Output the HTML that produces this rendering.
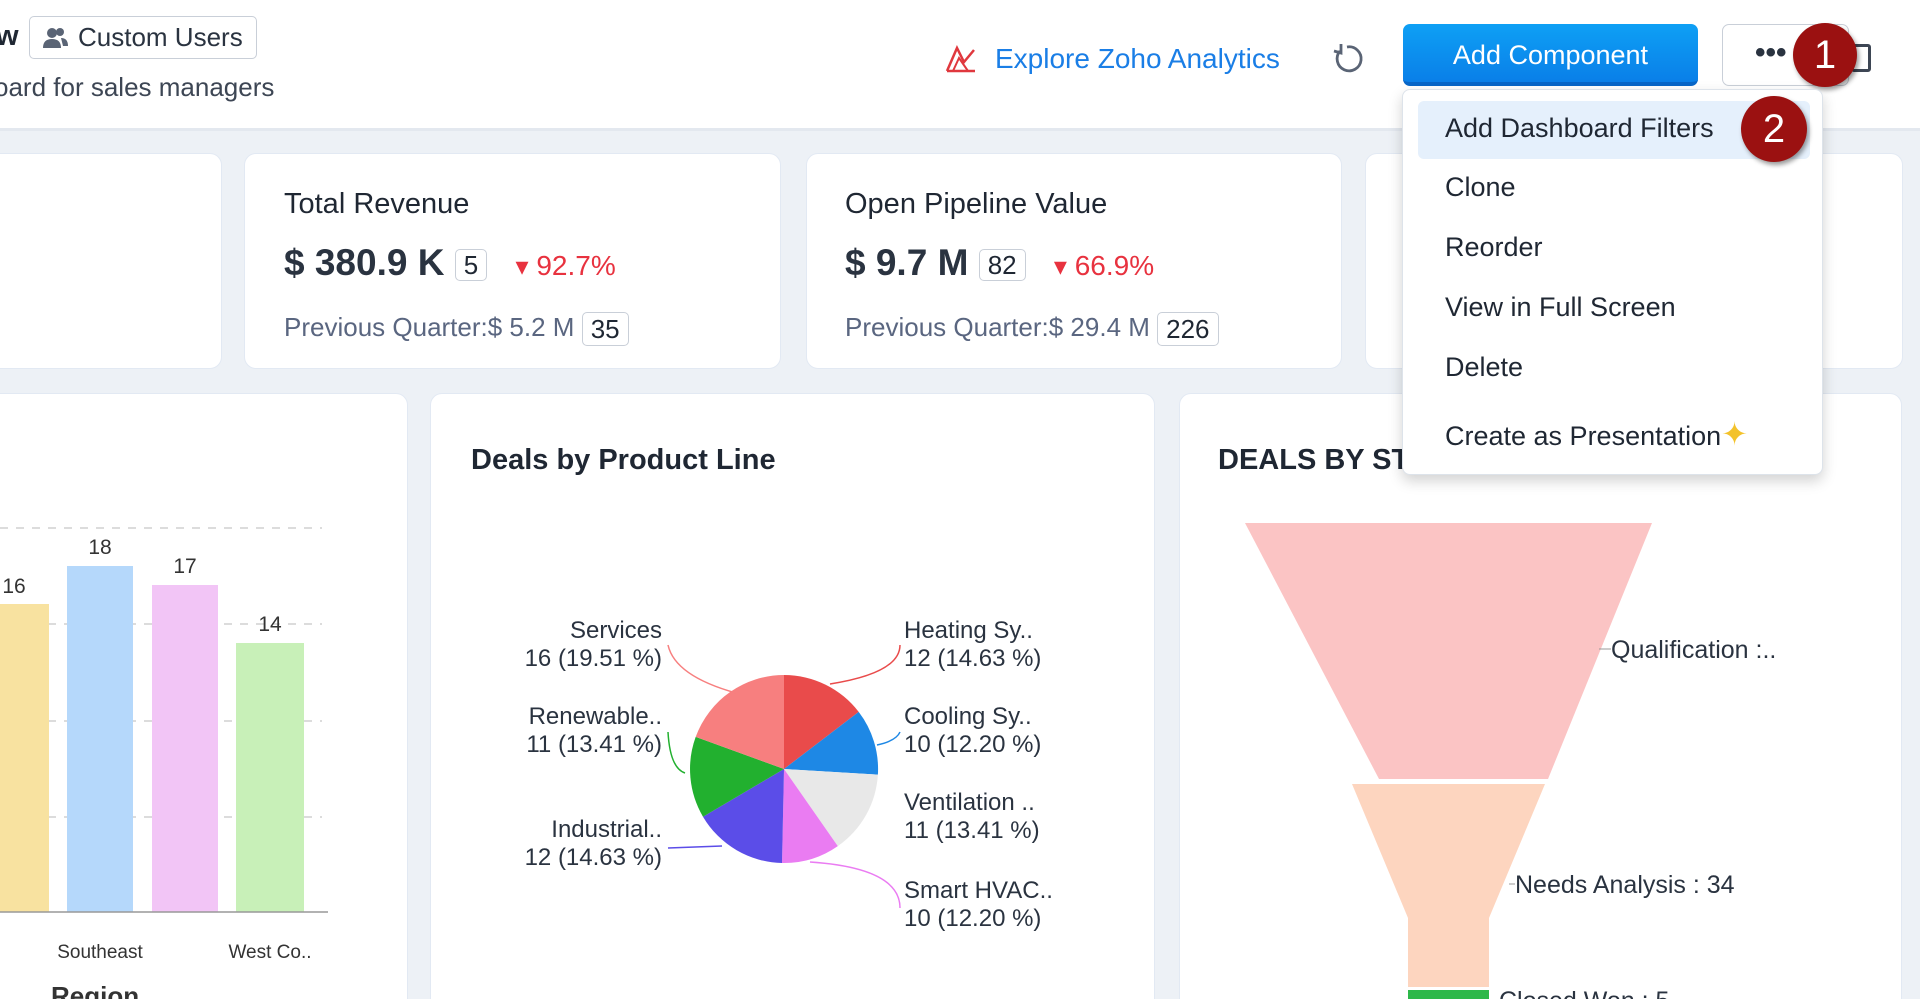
<!DOCTYPE html>
<html style="width:1920px;height:999px;overflow:hidden"><head><meta charset="utf-8"><style>
*{box-sizing:border-box;margin:0;padding:0}
body{width:1920px;height:999px;overflow:hidden;background:#edf1f6;font-family:"Liberation Sans",sans-serif;color:#1f2733;position:relative}
.a{position:absolute;white-space:nowrap}
.card{position:absolute;background:#fff;border:1px solid #e2e9f3;border-radius:12px}
.box{display:inline-block;border:1.5px solid #c9cfd8;border-radius:5px;padding:0 8px;line-height:30px;font-size:26px;vertical-align:middle;color:#1f2733;font-weight:normal}
.mi{position:absolute;left:42px;font-size:27px;color:#1f2733}
.badge{position:absolute;border-radius:50%;background:#9b1111;color:#fff;font-size:40px;text-align:center;box-shadow:2px 3px 5px rgba(0,0,0,.4)}
</style></head><body>
<div class="a" style="left:0;top:0;width:1920px;height:131px;background:#fff;border-bottom:3px solid #e3e8ef"></div>
<div class="a" style="left:-4px;top:20px;font-size:29px;font-weight:bold">w</div>
<div class="a" style="left:29px;top:16px;width:228px;height:43px;border:1.5px solid #c9cfd8;border-radius:5px;font-size:26px;line-height:40px;padding-left:48px;color:#2a3340">Custom Users
<svg style="position:absolute;left:12px;top:10px" width="28" height="22"><circle cx="10" cy="6" r="5" fill="#5a6475"/><path d="M1 21 Q1 12 10 12 Q19 12 19 21Z" fill="#5a6475"/><circle cx="18" cy="5" r="4" fill="#5a6475"/><path d="M19 11 Q26 11 26 19 L21 19" fill="#5a6475"/></svg></div>
<div class="a" style="left:-6px;top:72px;font-size:26px;color:#3d4654">oard for sales managers</div>
<svg class="a" style="left:944px;top:44px" width="34" height="30"><path d="M3 27 L13 4 L20 18 L30 6" fill="none" stroke="#e0383e" stroke-width="2.5"/><path d="M3 27 L31 27" stroke="#e0383e" stroke-width="2.5"/><path d="M9 27 L15 14 L24 27" fill="none" stroke="#e0383e" stroke-width="2"/></svg>
<div class="a" style="left:995px;top:43px;font-size:28px;color:#1a7ee6">Explore Zoho Analytics</div>
<svg class="a" style="left:1330px;top:42px" width="34" height="34"><path d="M10 9 A12 12 0 1 0 17 5" fill="none" stroke="#5a6475" stroke-width="2.8"/><path d="M11 2 L11 11 L4 9" fill="none" stroke="#5a6475" stroke-width="2.8"/></svg>
<div class="a" style="left:1403px;top:24px;width:295px;height:62px;border-radius:7px;background:linear-gradient(#0ea0f5,#0a7fe8);border-bottom:4px solid #0866c8;color:#fff;font-size:27px;text-align:center;line-height:62px">Add Component</div>
<div class="a" style="left:1722px;top:24px;width:127px;height:62px;border-radius:7px;border:1.5px solid #c9cfd8;background:#fff;font-size:30px;font-weight:bold;line-height:56px;padding-left:32px;color:#2a3340">•••</div>
<div class="a" style="left:1851px;top:44px;width:20px;height:28px;border:3px solid #3d4654;border-radius:3px"></div>
<div class="badge" style="left:1793px;top:23px;width:64px;height:64px;line-height:64px">1</div>

<div class="card" style="left:-20px;top:153px;width:242px;height:216px"></div>
<div class="card" style="left:244px;top:153px;width:537px;height:216px">
<div class="a" style="left:39px;top:34px;font-size:29px">Total Revenue</div>
<div class="a" style="left:39px;top:88px;font-size:37px;font-weight:bold;color:#2a3340">$ 380.9 K <span class="box">5</span> <span style="font-size:28px;color:#e8323f;font-weight:normal;margin-left:18px"><span style="font-size:26px">▾</span> 92.7%</span></div>
<div class="a" style="left:39px;top:158px;font-size:26px;color:#5a6680">Previous Quarter:$ 5.2 M <span class="box" style="line-height:32px">35</span></div>
</div>
<div class="card" style="left:806px;top:153px;width:536px;height:216px">
<div class="a" style="left:38px;top:34px;font-size:29px">Open Pipeline Value</div>
<div class="a" style="left:38px;top:88px;font-size:37px;font-weight:bold;color:#2a3340">$ 9.7 M <span class="box">82</span> <span style="font-size:28px;color:#e8323f;font-weight:normal;margin-left:18px"><span style="font-size:26px">▾</span> 66.9%</span></div>
<div class="a" style="left:38px;top:158px;font-size:26px;color:#5a6680">Previous Quarter:$ 29.4 M <span class="box" style="line-height:32px">226</span></div>
</div>
<div class="card" style="left:1365px;top:153px;width:538px;height:216px"></div>

<div class="card" style="left:-20px;top:393px;width:428px;height:620px"></div>
<div class="card" style="left:430px;top:393px;width:725px;height:620px"></div>
<div class="card" style="left:1179px;top:393px;width:723px;height:620px"></div>

<svg class="a" style="left:0;top:393px" width="408" height="606" font-family="Liberation Sans" font-size="21" fill="#333">
<g stroke="#c8c8c8" stroke-dasharray="8,8" stroke-width="1.3"><line x1="0" y1="135" x2="322" y2="135"/><line x1="0" y1="231" x2="322" y2="231"/><line x1="0" y1="328" x2="322" y2="328"/><line x1="0" y1="424" x2="322" y2="424"/></g>
<rect x="0" y="211" width="49" height="308" fill="#f8e2a0"/>
<rect x="67" y="173" width="66" height="346" fill="#b5d8fb"/>
<rect x="152" y="192" width="66" height="327" fill="#f2c5f6"/>
<rect x="236" y="250" width="68" height="269" fill="#c8f0b8"/>
<line x1="0" y1="519" x2="328" y2="519" stroke="#999" stroke-width="1.5"/>
<text x="14" y="200" text-anchor="middle">16</text><text x="100" y="161" text-anchor="middle">18</text><text x="185" y="180" text-anchor="middle">17</text><text x="270" y="238" text-anchor="middle">14</text>
<text x="100" y="565" text-anchor="middle" font-size="19">Southeast</text><text x="270" y="565" text-anchor="middle" font-size="19">West Co..</text>
<text x="51" y="612" font-size="26" font-weight="bold">Region</text>
</svg>

<div class="a" style="left:471px;top:444px;font-size:29px;font-weight:bold">Deals by Product Line</div>
<svg class="a" style="left:430px;top:393px" width="725" height="606" font-family="Liberation Sans" font-size="24" fill="#2a3340">
<g transform="translate(354,376)">
<path d="M0 0 L0 -94 A94 94 0 0 1 74.7 -57.1Z" fill="#e94b4b"/>
<path d="M0 0 L74.7 -57.1 A94 94 0 0 1 93.9 5.6Z" fill="#1e88e5"/>
<path d="M0 0 L93.9 5.6 A94 94 0 0 1 53.8 77.1Z" fill="#e8e8e8"/>
<path d="M0 0 L53.8 77.1 A94 94 0 0 1 -2 94Z" fill="#ea7cf2"/>
<path d="M0 0 L-2 94 A94 94 0 0 1 -81 47.7Z" fill="#5b4de8"/>
<path d="M0 0 L-81 47.7 A94 94 0 0 1 -88.3 -32.1Z" fill="#22b02f"/>
<path d="M0 0 L-88.3 -32.1 A94 94 0 0 1 0 -94Z" fill="#f77f7f"/>
</g>
<g fill="none" stroke-width="1.5">
<path d="M238 252 Q245 283 306 300" stroke="#f77f7f"/>
<path d="M470 252 Q470 280 400 291" stroke="#e94b4b"/>
<path d="M238 339 Q240 375 255 380" stroke="#22b02f"/>
<path d="M470 339 Q466 348 447 352" stroke="#1e88e5"/>
<path d="M238 455 L292 453" stroke="#5b4de8"/>
<path d="M470 515 Q470 475 380 469" stroke="#ea7cf2"/>
</g>
<g text-anchor="end"><text x="232" y="245">Services</text><text x="232" y="273">16 (19.51 %)</text>
<text x="232" y="331">Renewable..</text><text x="232" y="359">11 (13.41 %)</text>
<text x="232" y="444">Industrial..</text><text x="232" y="472">12 (14.63 %)</text></g>
<text x="474" y="245">Heating Sy..</text><text x="474" y="273">12 (14.63 %)</text>
<text x="474" y="331">Cooling Sy..</text><text x="474" y="359">10 (12.20 %)</text>
<text x="474" y="417">Ventilation ..</text><text x="474" y="445">11 (13.41 %)</text>
<text x="474" y="505">Smart HVAC..</text><text x="474" y="533">10 (12.20 %)</text>
</svg>

<div class="a" style="left:1218px;top:444px;font-size:29px;font-weight:bold">DEALS BY STAGE</div>
<svg class="a" style="left:1179px;top:393px" width="723" height="606" font-family="Liberation Sans" font-size="25" fill="#2a3340">
<polygon points="66,130 473,130 369,386 200,386" fill="#fbc4c4"/>
<polygon points="173,391 366,391 310,525 310,594 229,594 229,525" fill="#fdd5bf"/>
<rect x="229" y="597" width="81" height="12" fill="#2eb84a"/>
<line x1="420" y1="256" x2="432" y2="256" stroke="#999"/>
<text x="432" y="265">Qualification :..</text>
<line x1="330" y1="491" x2="336" y2="491" stroke="#999"/>
<text x="336" y="500">Needs Analysis : 34</text>
<text x="320" y="616">Closed Won : 5</text>
</svg>

<div class="a" style="left:1402px;top:89px;width:421px;height:386px;background:#fff;border:1px solid #dde3ea;border-radius:8px;box-shadow:0 6px 14px rgba(0,0,0,.18)">
<div class="a" style="left:15px;top:11px;width:392px;height:58px;background:#e5f0fc;border-radius:6px"></div>
<div class="mi" style="top:23px">Add Dashboard Filters</div>
<div class="mi" style="top:82px">Clone</div>
<div class="mi" style="top:142px">Reorder</div>
<div class="mi" style="top:202px">View in Full Screen</div>
<div class="mi" style="top:262px">Delete</div>
<div class="mi" style="top:325px">Create as Presentation<span style="color:#f3c22b;font-size:32px">✦</span></div>
</div>
<div class="badge" style="left:1741px;top:96px;width:66px;height:66px;line-height:66px">2</div>
</body></html>
